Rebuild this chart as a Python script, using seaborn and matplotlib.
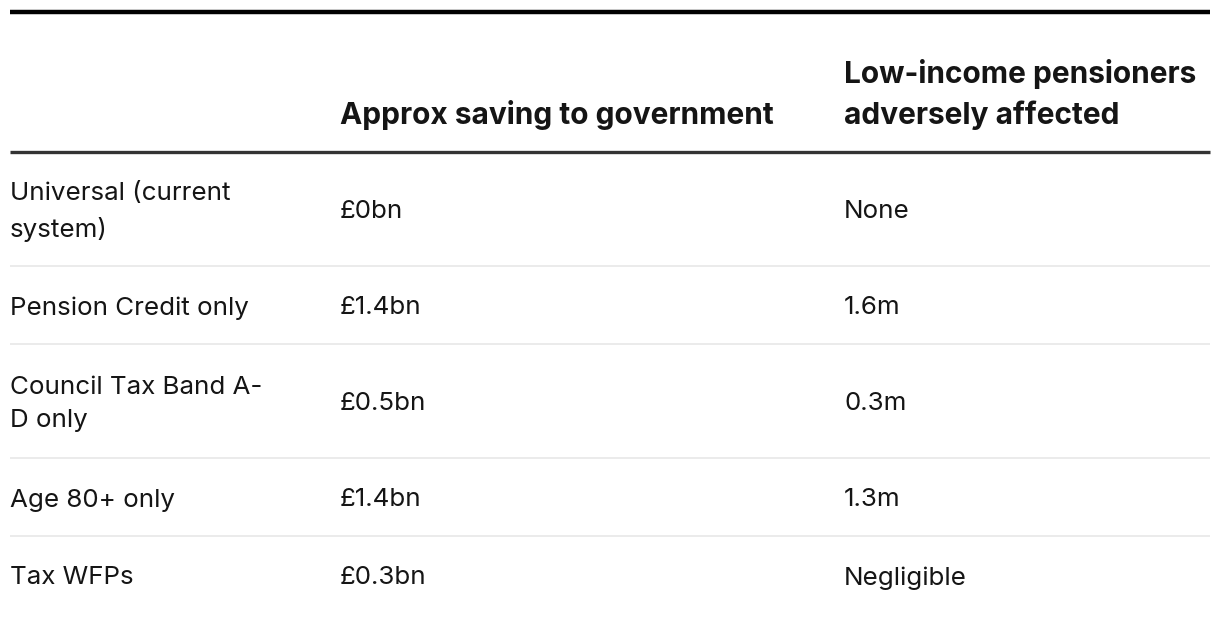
import matplotlib
matplotlib.use("Agg")
import matplotlib.pyplot as plt
import seaborn as sns

# ---- data ----
headers = ["", "Approx saving to government", "Low-income pensioners\nadversely affected"]
options = ["Universal (current\nsystem)", "Pension Credit only", "Council Tax Band A-\nD only",
           "Age 80+ only", "Tax WFPs"]
savings = ["£0bn", "£1.4bn", "£0.5bn", "£1.4bn", "£0.3bn"]
affected = ["None", "1.6m", "0.3m", "1.3m", "Negligible"]

sns.set_theme(style="white")
plt.rcParams["font.family"] = ["Inter", "DejaVu Sans"]

W, H = 1220, 624
fig = plt.figure(figsize=(W / 100, H / 100), dpi=100)
ax = fig.add_axes([0, 0, 1, 1])
ax.set_xlim(0, W)
ax.set_ylim(H, 0)
ax.axis("off")

txt = "#151515"
col_x = [10, 340, 844]
left, right = 10, 1210

# top rule
ax.hlines(12, left, right, color="black", lw=3.2)
# header
header_bottom = 152
for x, h in zip(col_x, headers):
    ax.text(x, 130, h, fontsize=21.5, fontweight="bold", color=txt,
            ha="left", va="bottom", linespacing=1.48)
ax.hlines(header_bottom, left, right, color="#333333", lw=2.4)

# body rows
y = header_bottom
line_h = 36
for i, (o, s, a) in enumerate(zip(options, savings, affected)):
    n = o.count("\n") + 1
    rh = 78 + line_h * (n - 1)
    cy = y + rh / 2 + 3
    for x, t in zip(col_x, [o, s, a]):
        ax.text(x, cy, t, fontsize=18.7, color=txt, ha="left", va="center",
                linespacing=1.57)
    y += rh
    if i < len(options) - 1:
        ax.hlines(y, left, right, color="#e8e8e8", lw=1.2)

fig.savefig("out.png", dpi=100, facecolor="white")
